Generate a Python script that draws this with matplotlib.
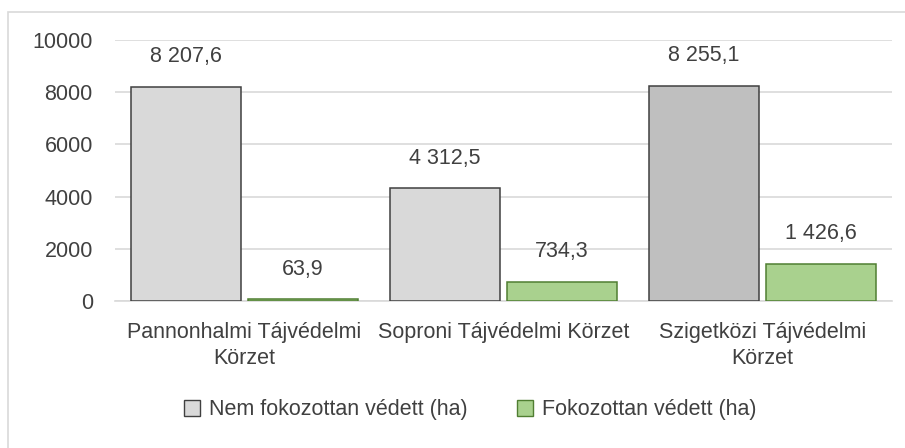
import matplotlib
matplotlib.use("Agg")
import matplotlib.pyplot as plt
from matplotlib.patches import Rectangle, Patch
import numpy as np

plt.rcParams['font.family'] = ['Liberation Sans', 'DejaVu Sans']

categories = ["Pannonhalmi Tájvédelmi\nKörzet", "Soproni Tájvédelmi Körzet", "Szigetközi Tájvédelmi\nKörzet"]
series_names = ["Nem fokozottan védett (ha)", "Fokozottan védett (ha)"]
nem_fokozottan = [8207.6, 4312.5, 8255.1]
fokozottan = [63.9, 734.3, 1426.6]
yticks = [0, 2000, 4000, 6000, 8000, 10000]

gray_colors = ["#d9d9d9", "#d9d9d9", "#bfbfbf"]
green_color = "#a9d18e"
gray_edge = "#404040"
green_edge = "#507e32"
text_color = "#404040"

def fmt(v):
    s = f"{v:,.1f}"
    return s.replace(",", " ").replace(".", ",")

fig = plt.figure(figsize=(9.05, 4.48), dpi=100)
fig.patches.append(Rectangle((8/905, -0.1), 1.1, 1 - 12/448 + 0.1, transform=fig.transFigure,
                             fill=False, edgecolor="#d9d9d9", linewidth=1.2))
ax = fig.add_axes([115/905, 1 - 301/448, (892 - 115)/905, (301 - 40)/448])

x = np.arange(len(categories))
w = 0.425
off = 0.2255
b1 = ax.bar(x - off, nem_fokozottan, w, color=gray_colors, edgecolor=gray_edge, linewidth=1.1, zorder=3)
b2 = ax.bar(x + off, fokozottan, w, color=green_color, edgecolor=green_edge, linewidth=1.1, zorder=3)

ax.bar_label(b1, labels=[fmt(v) for v in nem_fokozottan], padding=14, fontsize=15.5, color=text_color)
ax.bar_label(b2, labels=[fmt(v) for v in fokozottan], padding=14, fontsize=15.5, color=text_color)

ax.set_xlim(-0.5, 2.5)
ax.set_ylim(0, 10000)
ax.set_yticks(yticks)
ax.set_yticklabels([str(t) for t in yticks])
ax.set_xticks(x)
ax.set_xticklabels(categories, linespacing=1.35)
ax.tick_params(axis='y', length=0, pad=16, labelsize=15.5, labelcolor=text_color)
ax.tick_params(axis='x', length=0, pad=15, labelsize=15.5, labelcolor=text_color)
ax.grid(axis='y', color="#d9d9d9", linewidth=1.2, zorder=0)
for s in ['left', 'right', 'top']:
    ax.spines[s].set_visible(False)
ax.spines['bottom'].set_color("#d9d9d9")
ax.spines['bottom'].set_linewidth(1.2)

handles = [Patch(facecolor="#d9d9d9", edgecolor=gray_edge, linewidth=1.0),
           Patch(facecolor=green_color, edgecolor=green_edge, linewidth=1.0)]
fig.legend(handles, series_names, loc='center', bbox_to_anchor=(470/905, 1 - 410/448),
           ncol=2, frameon=False, fontsize=15.5, labelcolor=text_color,
           handlelength=0.75, handleheight=0.75, handletextpad=0.4, columnspacing=2.3)

fig.savefig("out.png", dpi=100)
